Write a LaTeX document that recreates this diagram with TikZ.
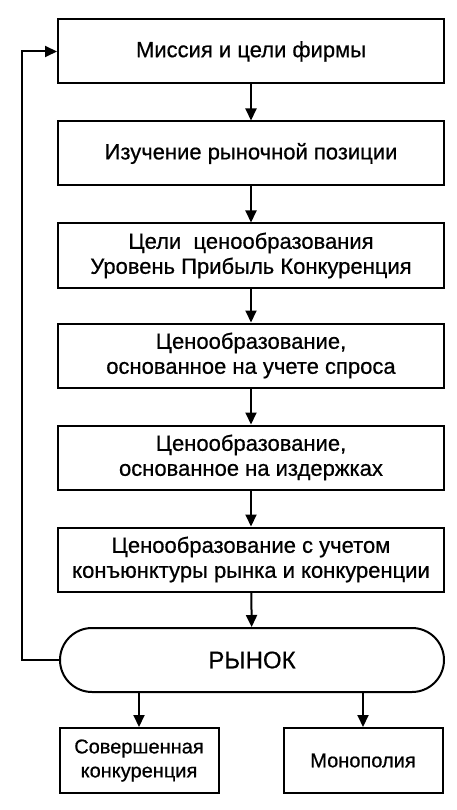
\documentclass[tikz,border=0pt]{standalone}
\usepackage{fontspec}
\setmainfont[FakeBold=0.6]{Liberation Sans}
\usetikzlibrary{arrows.meta,shapes.misc}
\begin{document}
\begin{tikzpicture}[x=1pt,y=-1pt,
  every node/.style={font=\fontsize{22}{25}\selectfont, align=center, inner sep=0pt},
  blk/.style={draw, line width=2pt, minimum width=386pt, minimum height=64pt},
  sblk/.style={draw, line width=2pt, minimum width=159pt, minimum height=65pt, font=\fontsize{20}{24}\selectfont},
  mkt/.style={draw, line width=2pt, rounded rectangle, minimum width=384pt, minimum height=64pt},
  arr/.style={line width=2pt, -{Triangle[length=12pt,width=11pt]}}]
\useasboundingbox (0,0) rectangle (457,810);
\node[blk] (b1) at (251,51.5) {Миссия и цели фирмы};
\node[blk] (b2) at (251,153.5) {Изучение рыночной позиции};
\node[blk] (b3) at (251,255.5) {Цели\ \ ценообразования\\Уровень Прибыль Конкуренция};
\node[blk] (b4) at (251,355.5) {Ценообразование,\\основанное на учете спроса};
\node[blk] (b5) at (251,457.5) {Ценообразование,\\основанное на издержках};
\node[blk] (b6) at (251,559.5) {Ценообразование с учетом\\конъюнктуры рынка и конкуренции};
\node[mkt, font=\fontsize{24}{28}\selectfont] (m) at (252,660) {РЫНОК};
\node[sblk] (c1) at (139,760.5) {Совершенная\\конкуренция};
\node[sblk] (c2) at (363,760.5) {Монополия};
\coordinate (fb1) at (22,660);
\coordinate (fb2) at (22,51.5);
\draw[arr] (b1) -- (b2);
\draw[arr] (b2) -- (b3);
\draw[arr] (b3) -- (b4);
\draw[arr] (b4) -- (b5);
\draw[arr] (b5) -- (b6);
\draw[arr] (b6) -- (m);
\draw[arr] (m.south -| c1) -- (c1);
\draw[arr] (m.south -| c2) -- (c2);
\draw[arr] (m.west) -- (fb1) -- (fb2) -- (b1.west);
\end{tikzpicture}
\end{document}
